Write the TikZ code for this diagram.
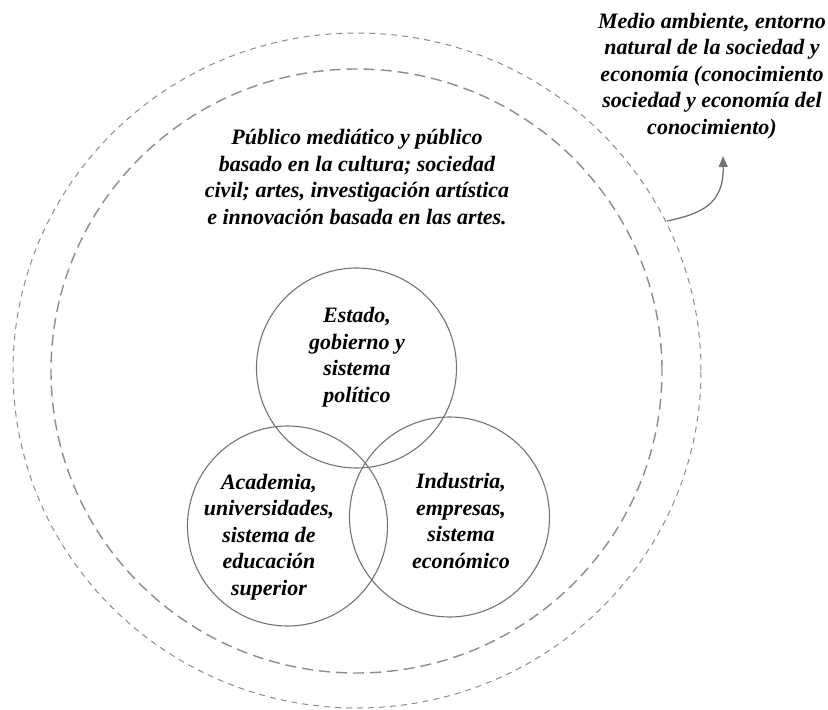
\documentclass[tikz,border=0pt]{standalone}
\usepackage{fontspec}
\setmainfont{Liberation Serif}
\usetikzlibrary{shapes.geometric,arrows.meta}

\tikzset{
    ring/.style={draw=gray!90, ellipse, inner sep=0pt},
    outerring/.style={ring, dash pattern=on 6pt off 5pt, line width=1pt},
    innerring/.style={ring, dash pattern=on 11pt off 6pt, line width=1.4pt},
    sector/.style={draw=gray!110, circle, line width=1.1pt, minimum size=200pt, inner sep=0pt},
    lbl/.style={align=center, font=\fontsize{22}{26.5}\selectfont\bfseries\itshape},
    pointer/.style={draw=gray!110, line width=1.3pt, -{Triangle[length=11pt,width=9pt]}},
}

\begin{document}
\begin{tikzpicture}[x=1pt, y=-1pt]
    \useasboundingbox (0,0) rectangle (828,710);

    \node[outerring, minimum width=688pt, minimum height=675pt] (outer) at (357,370.5) {};
    \node[innerring, minimum width=611pt, minimum height=604pt] (inner) at (356.5,371) {};

    \node[sector] (state) at (356.5,368) {};
    \node[sector] (acad) at (287.5,526) {};
    \node[sector] (ind) at (449.5,517) {};

    \node[lbl] (statetxt) at (357,357) {Estado,\\gobierno y\\sistema\\político};
    \node[lbl] (acadtxt) at (269,537) {Academia,\\universidades,\\sistema de\\educación\\superior};
    \node[lbl] (indtxt) at (461,521) {Industria,\\empresas,\\sistema\\económico};

    \node[lbl] (public) at (357,177) {Público mediático y público\\basado en la cultura; sociedad\\civil; artes, investigación artística\\e innovación basada en las artes.};
    \node[lbl] (env) at (712,76) {Medio ambiente, entorno\\natural de la sociedad y\\economía (conocimiento\\sociedad y economía del\\conocimiento)};

    % flecha hacia el medio ambiente
    \coordinate (ringpt) at (667,221);
    \coordinate (tip) at (723,156);
    \draw[pointer] (ringpt) .. controls (700,214) and (724,205) .. (tip);
\end{tikzpicture}
\end{document}
